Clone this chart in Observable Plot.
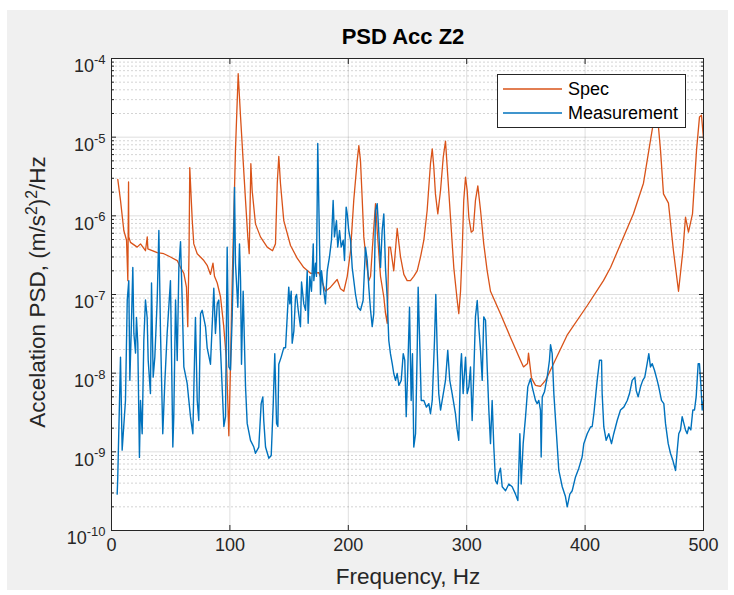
<!DOCTYPE html>
<html><head><meta charset="utf-8">
<script src="https://cdn.jsdelivr.net/npm/d3@7"></script>
<script src="https://cdn.jsdelivr.net/npm/@observablehq/plot@0.6"></script>
<style>
body{margin:0;background:#fff;font-family:"Liberation Sans",Arial,sans-serif;}
#page{position:relative;width:734px;height:595px;overflow:hidden;}
#bg{position:absolute;left:7px;top:10px;width:721px;height:580px;background:#f0f0f0;}
#chart{position:absolute;left:0;top:0;}
.lbl{position:absolute;color:#262626;white-space:nowrap;}
.lbl sup{font-size:70%;vertical-align:0.5em;line-height:0;}
#title{left:403px;top:37px;transform:translate(-50%,-50%);font-weight:bold;font-size:22px;color:#000;}
#xlabel{left:408px;top:577px;transform:translate(-50%,-50%);font-size:22.5px;}
#ylabel{left:38px;top:292px;transform:translate(-50%,-50%) rotate(-90deg);font-size:22.5px;}
#legend{position:absolute;left:497px;top:74px;width:187px;height:52px;background:#fff;border:1px solid #262626;font-size:18px;color:#000;}
.item{position:absolute;left:0;height:22px;display:flex;align-items:center;}
.item svg{margin-left:5px;margin-right:6px;}
</style></head>
<body>
<div id="page">
  <div id="bg"></div>
  <div id="chart"></div>
  <div id="title" class="lbl"></div>
  <div id="xlabel" class="lbl"></div>
  <div id="ylabel" class="lbl"></div>
  <div id="legend"></div>
</div>
<script>
const titleText = "PSD Acc Z2";
const xLabelText = "Frequency, Hz";
const yLabelParts = ["Accelation PSD, (m/s", "2", ")", "2", "/Hz"];
const seriesNames = ["Spec", "Measurement"];
const seriesColors = ["#D95319", "#0072BD"];

const xTicks = [0, 100, 200, 300, 400, 500];
const yTicks = [1e-10, 1e-9, 1e-8, 1e-7, 1e-6, 1e-5, 1e-4];
const yTickBase = "10";
const yTickExps = ["-10", "-9", "-8", "-7", "-6", "-5", "-4"];

const specFreq = [5.3,7.6,10.4,12.7,13.8,14.4,14.6,16.0,21.7,24.5,28.7,30.2,30.7,38.6,44.2,49.8,55.5,58.3,61.1,63.3,64.4,65.5,66.1,68.2,69.5,72.4,78.0,80.8,83.6,85.7,87.0,89.3,92.1,94.8,97.1,98.2,99.1,100.5,101.9,104.7,107.0,109.0,111.2,113.2,115.1,116.3,117.7,118.8,121.6,125.8,131.5,136.0,138.5,140.0,141.3,142.7,145.5,151.2,156.8,162.4,168.1,175.1,180.7,185.0,190.6,193.4,196.2,199.1,201.9,204.6,207.5,208.9,210.3,211.7,213.1,215.4,217.3,218.8,221.0,223.0,224.4,227.2,230.0,231.4,232.9,234.2,235.6,238.4,241.3,244.1,246.9,249.7,252.5,255.3,258.2,261.0,263.8,266.6,269.4,270.9,272.2,273.6,275.6,277.9,280.2,282.1,283.5,286.3,289.1,292.0,293.3,294.8,296.2,297.5,299.0,300.4,301.8,303.8,305.5,307.4,309.4,311.7,314.4,317.3,320.1,328.5,337.0,345.4,348.0,351.4,352.2,354.7,358.1,362.3,366.6,370.8,385.1,402.0,415.5,421.5,440.9,449.3,456.9,459.5,461.1,463.7,466.2,470.4,474.6,478.9,482.6,484.8,487.3,490.7,494.1,496.6,498.3,500.0];
const specPsd = [2.9e-6,1.57e-6,6.5e-7,4.9e-7,1.5e-7,2.7e-6,5.4e-7,4.6e-7,4.0e-7,4.4e-7,3.6e-7,5.4e-7,3.8e-7,3.4e-7,3.3e-7,3.0e-7,2.7e-7,2.2e-7,1.86e-7,1.24e-7,3.9e-8,3.6e-7,4.1e-6,8.7e-7,4.4e-7,3.3e-7,2.7e-7,2.35e-7,1.8e-7,2.5e-7,1.7e-7,1.4e-7,9.3e-8,3.9e-8,1.46e-8,4.5e-9,1.6e-9,1.2e-8,1.4e-7,6.8e-6,6.4e-5,1.8e-5,5.0e-6,1.57e-6,5.4e-7,3.3e-7,4.6e-6,2.1e-6,7.9e-7,5.4e-7,4.0e-7,3.6e-7,4.4e-7,2.6e-6,5.7e-6,2.6e-6,8.7e-7,4.2e-7,2.9e-7,2.2e-7,1.86e-7,1.9e-7,1.1e-7,1.24e-7,1.55e-7,1.18e-7,1.1e-7,1.7e-7,3.6e-7,1.57e-6,5.0e-6,7.8e-6,5.0e-6,1.7e-6,5.4e-7,2.5e-7,1.5e-7,1.7e-7,5.4e-7,1.43e-6,6.5e-7,1.7e-7,9.3e-8,5.8e-8,4.3e-8,4.0e-7,4.0e-7,2.0e-7,6.9e-7,3.0e-7,1.8e-7,1.5e-7,1.5e-7,1.7e-7,2.0e-7,3.0e-7,4.9e-7,1.17e-6,4.6e-6,7.1e-6,4.2e-6,1.9e-6,1.06e-6,2.1e-6,5.6e-6,8.9e-6,4.2e-6,9.6e-7,2.2e-7,8.4e-8,5.7e-8,1.1e-7,3.6e-7,1.57e-6,3.1e-6,2.1e-6,9.6e-7,6.2e-7,6.5e-7,1.57e-6,2.4e-6,1.17e-6,4.4e-7,2.0e-7,1.1e-7,5.7e-8,2.85e-8,1.46e-8,1.2e-8,1.33e-8,1.8e-8,8.7e-9,7.0e-9,6.8e-9,8.1e-9,1.1e-8,3.1e-8,7.3e-8,1.5e-7,2.2e-7,1.07e-6,2.6e-6,1.3e-5,2.5e-5,1.9e-5,6.8e-6,1.9e-6,1.45e-6,3.6e-7,1.1e-7,3.6e-7,9.6e-7,6.2e-7,1.06e-6,6.8e-6,1.8e-5,1.9e-5,9.5e-6];

const measFreq = [4.8,5.3,7.6,9.0,11.8,13.3,14.6,15.5,16.6,18.0,18.9,20.3,21.1,22.2,23.6,24.5,25.9,27.3,28.7,30.1,31.0,32.9,33.8,35.2,36.6,38.6,40.0,41.4,43.3,45.0,47.0,49.8,51.8,52.6,54.1,55.5,56.9,58.3,59.7,61.1,63.9,66.7,68.7,70.9,72.4,73.7,75.2,76.6,79.4,80.8,83.6,86.4,87.8,89.3,90.6,92.1,94.9,96.3,97.7,99.1,100.5,101.9,102.8,103.9,104.7,106.7,108.1,109.0,109.8,110.4,111.2,113.2,114.6,117.4,120.2,121.6,124.4,126.4,127.8,128.6,130.1,132.9,134.9,136.6,137.9,139.4,140.5,141.3,143.3,145.5,147.0,148.4,149.7,150.6,151.8,152.6,154.0,155.4,156.3,157.7,159.6,160.5,162.4,163.9,165.3,166.1,167.5,168.9,170.4,170.9,172.3,173.1,174.2,175.9,176.5,177.4,179.3,180.7,182.2,184.1,185.8,187.2,188.3,190.0,191.1,192.6,194.0,195.7,196.8,198.2,199.1,200.4,201.9,203.3,206.1,208.0,210.3,212.5,214.5,216.0,217.3,218.8,220.2,221.5,223.0,224.4,225.8,227.2,228.6,230.0,231.4,232.8,234.2,235.6,237.1,238.4,239.9,241.3,242.7,244.7,246.4,247.7,248.9,250.3,251.7,253.1,254.2,255.3,256.8,258.2,259.0,260.1,261.6,263.8,266.0,268.0,269.4,270.9,272.8,273.9,275.1,276.4,277.9,279.3,282.1,284.0,285.7,287.7,290.5,292.0,293.3,294.8,295.6,297.0,299.0,300.4,301.8,303.2,304.6,306.0,307.4,308.9,310.2,311.7,313.1,314.4,315.9,317.3,318.7,320.1,321.5,322.9,324.3,325.8,327.1,328.5,330.0,332.8,335.6,338.4,341.2,343.2,344.9,346.0,347.7,349.7,351.6,353.9,355.3,356.7,358.1,359.5,360.9,362.3,362.9,363.8,365.7,368.0,369.9,370.8,372.2,373.6,375.8,377.8,380.7,383.4,384.9,387.1,389.1,391.9,394.7,397.5,398.9,401.8,404.6,406.0,407.4,410.2,412.2,413.9,414.4,415.8,417.8,420.0,422.3,424.2,427.1,429.9,432.7,435.6,437.5,439.8,442.0,443.2,444.8,446.8,448.7,450.4,452.4,453.8,455.2,456.7,458.6,460.9,462.2,464.5,466.5,467.9,470.2,472.1,474.1,476.4,477.8,479.1,480.6,482.0,483.4,484.8,486.2,487.6,489.3,491.0,492.4,493.8,495.5,496.6,497.7,498.9,500.0];
const measPsd = [2.9e-10,4.8e-10,1.6e-8,1.05e-9,4.5e-9,8.5e-8,1.5e-7,8.1e-9,3.2e-8,2.2e-7,3.2e-8,1.8e-8,5.1e-8,2.4e-8,8.5e-10,4.5e-9,1.7e-9,2.6e-8,8.5e-8,5.1e-8,1.45e-8,5.5e-9,1.4e-7,8.9e-9,1.6e-8,8.5e-8,6.5e-7,3.2e-8,1.7e-9,7.4e-9,3.2e-8,1.5e-7,1.15e-9,2.8e-9,8.5e-8,1.45e-8,2.2e-7,4.7e-7,8.5e-8,1.2e-8,7.4e-9,2.8e-9,1.7e-9,5.1e-8,4.5e-9,2.5e-9,5.7e-8,6.3e-8,3.9e-8,2.1e-8,1.3e-8,1.2e-7,3.2e-8,7.6e-8,8.5e-8,1.95e-8,2.1e-9,2.8e-9,4.0e-7,1.2e-8,1.1e-8,5e-8,2e-7,2.3e-6,2.5e-7,6.9e-8,4.4e-7,1.5e-7,1.3e-8,3.4e-8,1.1e-7,6.7e-9,2.3e-9,1.4e-9,1.15e-9,9.6e-10,1.15e-9,4.1e-9,5.0e-9,2.5e-9,1.15e-9,8.3e-10,9.0e-10,4.1e-9,1.77e-8,2.3e-9,2.1e-9,1.3e-8,1.6e-8,2.1e-8,2.1e-8,5.2e-8,1.24e-7,7.6e-8,1.1e-7,2.4e-8,3.4e-8,9.3e-8,1.0e-7,6.3e-8,3.9e-8,1.44e-7,7.6e-8,6.3e-8,2.0e-7,4.3e-8,1.7e-7,1.1e-7,4.4e-7,1.5e-7,2.5e-7,1.7e-7,8.3e-6,3.0e-7,1.0e-7,2.0e-7,1.1e-7,7.6e-8,2.0e-7,3.0e-7,4.9e-7,1.57e-6,5.4e-7,8.7e-7,4.0e-7,6.5e-7,4.0e-7,4.9e-7,2.7e-7,1.29e-6,1.06e-6,6.5e-7,4.9e-7,2.2e-7,1.0e-7,6.9e-8,6.3e-8,8.4e-8,4.0e-7,2.7e-7,1.24e-7,6.3e-8,3.9e-8,5.7e-8,1.17e-6,1.43e-6,6.0e-7,2.2e-7,6.5e-7,1.06e-6,2.2e-7,9.3e-8,2.6e-8,1.77e-8,1.32e-8,9.9e-9,8.1e-9,9.9e-9,7.0e-9,8.1e-9,1.77e-8,1.46e-8,2.8e-9,1.2e-8,6.9e-8,4.5e-9,1.77e-8,1.15e-9,1.7e-9,1.95e-8,1.24e-7,3.2e-8,4.5e-9,4.5e-9,3.7e-9,4.1e-9,3.05e-9,4.5e-9,2.6e-8,1.0e-7,1.95e-8,5.5e-9,3.4e-9,4.5e-9,8.1e-9,1.95e-8,8.1e-9,5.5e-9,3.05e-9,1.9e-9,1.4e-9,1.2e-8,1.77e-8,5.5e-9,1.6e-8,5.5e-9,6.7e-9,1.2e-8,2.5e-9,9.9e-9,5.2e-8,8.4e-8,3.9e-8,1.95e-8,8.1e-9,5.2e-8,4.7e-8,1.2e-8,3.4e-9,1.27e-9,4.5e-9,1.15e-9,4.3e-10,3.9e-10,5.3e-10,6.2e-10,3.6e-10,3.2e-10,3.9e-10,3.6e-10,2.9e-10,2.4e-10,1.7e-9,3.9e-10,1.27e-9,2.8e-9,6.7e-9,8.5e-9,6.7e-9,5.5e-9,4.5e-9,4.1e-9,4.5e-9,3.4e-9,8.6e-10,5.0e-9,5.8e-9,8.9e-9,1.46e-8,2.3e-8,1.77e-8,5.5e-9,1.7e-9,5.8e-10,3.6e-10,2.7e-10,2.0e-10,2.9e-10,3.2e-10,4.8e-10,6.2e-10,8.6e-10,1.27e-9,1.7e-9,2.07e-9,2.1e-9,3.05e-9,8.1e-9,1.46e-8,1.46e-8,5.5e-9,2.07e-9,1.4e-9,1.7e-9,1.27e-9,1.7e-9,2.5e-9,3.4e-9,3.7e-9,4.5e-9,5.5e-9,8.1e-9,8.9e-9,6.0e-9,5.0e-9,6.7e-9,8.1e-9,8.9e-9,1.32e-8,1.77e-8,1.2e-8,1.32e-8,1.09e-8,8.1e-9,6.7e-9,4.5e-9,4.1e-9,2.3e-9,1.27e-9,9.6e-10,7.8e-10,5.8e-10,1.04e-9,1.7e-9,1.9e-9,2.8e-9,2.3e-9,1.9e-9,1.7e-9,2.07e-9,1.9e-9,3.4e-9,3.4e-9,5.0e-9,1.32e-8,1.32e-8,7.4e-9,3.4e-9,4.5e-9];

const spec = specFreq.map((f, i) => ({f, v: specPsd[i]}));
const meas = measFreq.map((f, i) => ({f, v: measPsd[i]}));
const minorY = [];
for (let e = -10; e < -4; e++) for (let k = 2; k <= 9; k++) minorY.push(k * Math.pow(10, e));

const ink = "#262626";
const plot = Plot.plot({
  width: 734, height: 595,
  marginLeft: 111, marginRight: 31, marginTop: 58, marginBottom: 65,
  style: {background: "transparent", fontFamily: "'Liberation Sans', Arial, sans-serif", fontSize: "18px", color: ink},
  x: {domain: [0, 500]},
  y: {type: "log", domain: [1e-10, 1e-4]},
  marks: [
    Plot.frame({fill: "white"}),
    Plot.ruleY(minorY, {stroke: ink, strokeOpacity: 0.2, strokeDasharray: "2,2"}),
    Plot.ruleY(yTicks, {stroke: ink, strokeOpacity: 0.15}),
    Plot.ruleX(xTicks, {stroke: ink, strokeOpacity: 0.15}),
    Plot.line(spec, {x: "f", y: "v", stroke: seriesColors[0], strokeWidth: 1.3}),
    Plot.line(meas, {x: "f", y: "v", stroke: seriesColors[1], strokeWidth: 1.4}),
    Plot.frame({stroke: ink}),
    Plot.axisX(xTicks, {anchor: "bottom", tickSize: -5, tickPadding: 13, label: null, tickFormat: d => String(d)}),
    Plot.axisX(xTicks, {anchor: "top", tickSize: -5, label: null, tickFormat: () => ""}),
    Plot.axisY(yTicks, {anchor: "left", tickSize: -5, tickPadding: 11, label: null, tickFormat: d => yTickExps[yTicks.indexOf(d)]}),
    Plot.axisY(minorY, {anchor: "left", tickSize: -3, label: null, tickFormat: () => ""}),
    Plot.axisY(yTicks, {anchor: "right", tickSize: -5, label: null, tickFormat: () => ""}),
    Plot.axisY(minorY, {anchor: "right", tickSize: -3, label: null, tickFormat: () => ""})
  ]
});
document.getElementById("chart").appendChild(plot);

// y tick labels: base "10" with superscript exponent
d3.select(plot).selectAll('g[aria-label="y-axis tick label"] text').each(function() {
  const exp = this.textContent;
  if (!exp) return;
  const t = d3.select(this);
  t.text(null);
  t.append("tspan").attr("dy", "0.45em").text(yTickBase);
  t.append("tspan").attr("dy", "-0.65em").attr("font-size", "13px").text(exp);
});

document.getElementById("title").textContent = titleText;
document.getElementById("xlabel").textContent = xLabelText;
const yl = document.getElementById("ylabel");
yLabelParts.forEach((p, i) => {
  if (i % 2 === 1) { const s = document.createElement("sup"); s.textContent = p; yl.appendChild(s); }
  else yl.appendChild(document.createTextNode(p));
});

const legend = document.getElementById("legend");
seriesNames.forEach((name, i) => {
  const it = document.createElement("div");
  it.className = "item";
  it.style.top = (i === 0 ? 3 : 27) + "px";
  const sw = d3.create("svg").attr("width", 59).attr("height", 4);
  sw.append("line").attr("x1", 0).attr("x2", 59).attr("y1", 2).attr("y2", 2)
    .attr("stroke", seriesColors[i]).attr("stroke-width", 1.5);
  const tx = document.createElement("span");
  tx.textContent = name;
  it.appendChild(sw.node()); it.appendChild(tx);
  legend.appendChild(it);
});
</script>
</body></html>
